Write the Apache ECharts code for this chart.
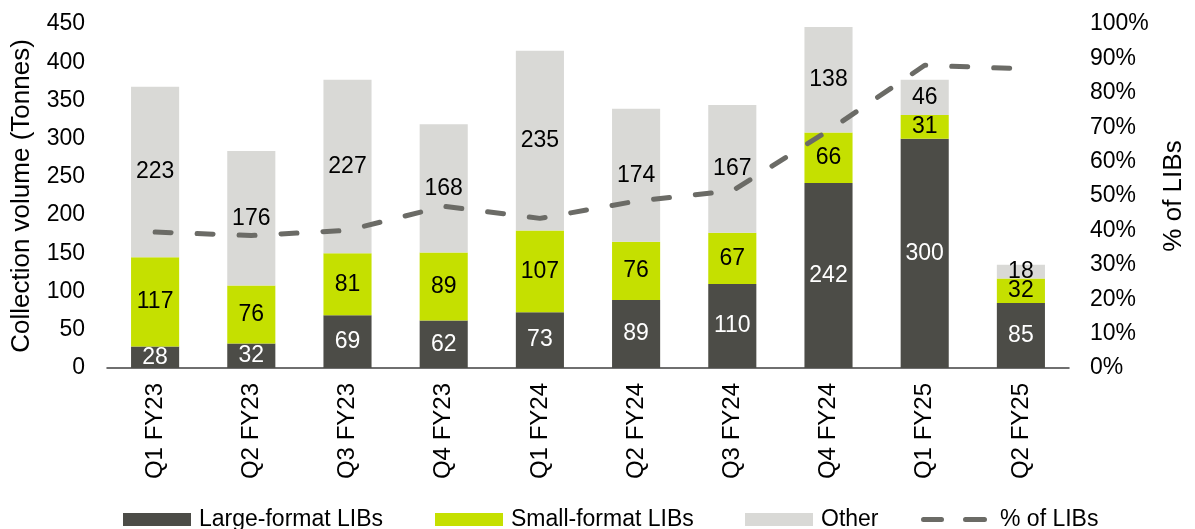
<!DOCTYPE html>
<html><head><meta charset="utf-8">
<script src="https://cdn.jsdelivr.net/npm/echarts@6/dist/echarts.min.js"></script>
<style>html,body{margin:0;padding:0;background:#fff}#c{width:1195px;height:529px}</style>
</head><body><div id="c"></div>
<script>
const categories = ['Q1 FY23','Q2 FY23','Q3 FY23','Q4 FY23','Q1 FY24','Q2 FY24','Q3 FY24','Q4 FY24','Q1 FY25','Q2 FY25'];
const largeFormat = [28,32,69,62,73,89,110,242,300,85];
const smallFormat = [117,76,81,89,107,76,67,66,31,32];
const other = [223,176,227,168,235,174,167,138,46,18];
const pctLIBs = [39.5,38.5,40,47,43.5,48.5,51.5,69,88,87];
const leftTicks = [0,50,100,150,200,250,300,350,400,450];
const rightTicks = [0,10,20,30,40,50,60,70,80,90,100];

const FONT = 'Liberation Sans, Arial, sans-serif';
const FS = 23;
const C_LARGE = '#4c4c47', C_SMALL = '#c5e000', C_OTHER = '#d9d9d6', C_LINE = '#6b6b66';
const DASH_ICON = 'path://M2.5,0 H20.5 A2.5,2.5 0 0 1 20.5,5 H2.5 A2.5,2.5 0 0 1 2.5,0 Z M44.5,0 H63.5 A2.5,2.5 0 0 1 63.5,5 H44.5 A2.5,2.5 0 0 1 44.5,0 Z';

const chart = echarts.init(document.getElementById('c'));
function lbl(color){return {show:true,position:'inside',color:color,fontSize:FS,fontFamily:FONT};}
function legend(name,left,w,h,icon,pad){
  const d = {name:name}; if(icon) d.icon = icon;
  return {data:[d],left:left,top:503,itemWidth:w,itemHeight:h,itemGap:0,
    textStyle:{fontSize:FS,fontFamily:FONT,color:'#000',padding:[0,0,0,pad]}};
}
chart.setOption({
  animation:false,
  textStyle:{fontFamily:FONT},
  grid:{left:107,right:119,top:24,bottom:161},
  legend:[
    legend('Large-format LIBs',118,68,13,'rect',3),
    legend('Small-format LIBs',430,68,13,'rect',3),
    legend('Other',740,68,13,'rect',3),
    legend('% of LIBs',916,66,5,DASH_ICON,8)
  ],
  xAxis:{type:'category',data:categories,
    axisLine:{lineStyle:{color:'#404040',width:1.5}},axisTick:{show:false},
    axisLabel:{rotate:90,fontSize:24,fontFamily:FONT,color:'#000',margin:15}},
  yAxis:[
    {type:'value',min:leftTicks[0],max:leftTicks[leftTicks.length-1],interval:50,
     name:'Collection volume (Tonnes)',nameLocation:'middle',nameGap:72,nameRotate:90,
     nameTextStyle:{fontSize:26,fontFamily:FONT,color:'#000'},
     splitLine:{show:false},axisLine:{show:false},axisTick:{show:false},
     axisLabel:{fontSize:FS,fontFamily:FONT,color:'#000',margin:22}},
    {type:'value',min:rightTicks[0],max:rightTicks[rightTicks.length-1],interval:10,
     name:'% of LIBs',nameLocation:'middle',nameGap:92,nameRotate:90,
     nameTextStyle:{fontSize:26,fontFamily:FONT,color:'#000'},
     splitLine:{show:false},axisLine:{show:false},axisTick:{show:false},
     axisLabel:{fontSize:FS,fontFamily:FONT,color:'#000',margin:21,formatter:'{value}%'}}
  ],
  series:[
    {name:'Large-format LIBs',type:'bar',stack:'a',barWidth:'50%',data:largeFormat,
     itemStyle:{color:C_LARGE},label:lbl('#fff')},
    {name:'Small-format LIBs',type:'bar',stack:'a',data:smallFormat,
     itemStyle:{color:C_SMALL},label:lbl('#000')},
    {name:'Other',type:'bar',stack:'a',data:other,
     itemStyle:{color:C_OTHER},label:lbl('#000')},
    {name:'% of LIBs',type:'line',yAxisIndex:1,data:pctLIBs,symbol:'none',
     itemStyle:{color:C_LINE},
     lineStyle:{color:C_LINE,width:5,type:[16,26],cap:'round'}}
  ]
});
</script></body></html>
